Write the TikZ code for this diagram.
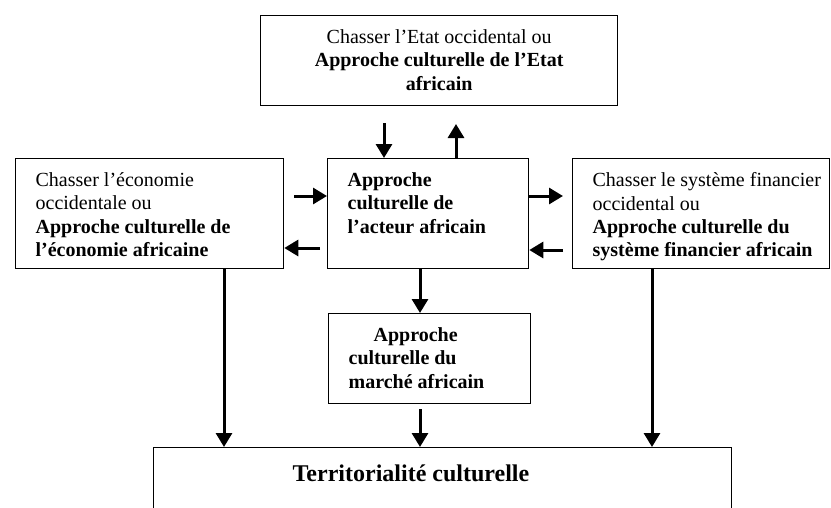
\documentclass[tikz,border=0pt]{standalone}
\usepackage{fontspec}
\setmainfont{Liberation Serif}
\usetikzlibrary{arrows.meta}
% text block of fixed size: width, height, gap above the first line, contents
\newcommand\cellbox[4]{\parbox[b][#2][t]{#1}{\vspace*{#3}#4}}
\begin{document}
\begin{tikzpicture}[x=1pt,y=-1pt,
  box/.style={draw, line width=1.3pt, inner sep=0pt, anchor=north west},
  arr/.style={line width=3pt, -{Triangle[length=14pt,width=16pt]}},
  every node/.style={font=\fontsize{20}{23.3}\selectfont}]
\useasboundingbox (0,0) rectangle (831,507);
\clip (0,0) rectangle (831,507);

% boxes
\node[box] (etat) at (260,15) {\cellbox{357pt}{90pt}{14pt}{\centering
  Chasser l’Etat occidental ou\\
  {\bfseries Approche culturelle de l’Etat\\ africain}}};
\node[box] (eco) at (15,158) {\cellbox{268pt}{110pt}{14pt}{\leftskip=20pt
  Chasser l’économie\\ occidentale ou\\
  {\bfseries Approche culturelle de\\ l’économie africaine}}};
\node[box] (acteur) at (327,158) {\cellbox{201pt}{110pt}{14pt}{\leftskip=20pt
  {\bfseries Approche\\ culturelle de\\ l’acteur africain}}};
\node[box] (fin) at (572,158) {\cellbox{257pt}{110pt}{14pt}{\leftskip=20pt
  Chasser le système financier\\ occidental ou\\
  {\bfseries Approche culturelle du\\ système financier africain}}};
\node[box] (marche) at (328,313) {\cellbox{202pt}{90pt}{14pt}{\leftskip=20pt
  {\bfseries \hspace*{25pt}Approche\\ culturelle du\\ marché africain}}};
\node[box] (terr) at (153,447) {\cellbox{578pt}{100pt}{17.5pt}{\hspace*{139pt}%
  {\fontsize{24}{28}\selectfont\bfseries Territorialité culturelle}}};

% free ends of the short arrows
\coordinate (t1) at (384,123);
\coordinate (t2) at (456,124);
\coordinate (h1) at (294,196);
\coordinate (h2) at (320,248);
\coordinate (h3) at (563,196);
\coordinate (h4) at (563,250);
\coordinate (v1) at (420,0);
\coordinate (v2) at (420,409);
\coordinate (v3) at (224,0);
\coordinate (v4) at (652,0);

% arrows
\draw[arr] (t1) -- (t1 |- acteur.north);
\draw[arr] (t2 |- acteur.north) -- (t2);
\draw[arr] (h1) -- (h1 -| acteur.west);
\draw[arr] (h2) -- (h2 -| eco.east);
\draw[arr] (h3 -| acteur.east) -- (h3);
\draw[arr] (h4) -- (h4 -| acteur.east);
\draw[arr] (v1 |- acteur.south) -- (v1 |- marche.north);
\draw[arr] (v2) -- (v2 |- terr.north);
\draw[arr] (v3 |- eco.south) -- (v3 |- terr.north);
\draw[arr] (v4 |- fin.south) -- (v4 |- terr.north);
\end{tikzpicture}
\end{document}
